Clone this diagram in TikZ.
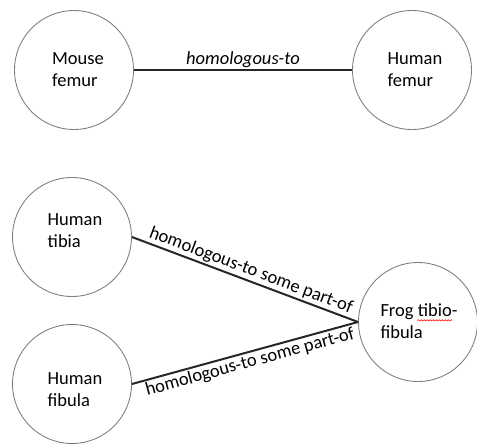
\documentclass[tikz,border=0pt]{standalone}
\usepackage{fontspec}
\setmainfont{Carlito}
\usetikzlibrary{decorations.pathmorphing}
\tikzset{
  bubble/.style={circle,draw=black!50,line width=0.9pt,minimum size=119pt,inner sep=0pt},
  txt/.style={align=left,inner sep=0pt,font=\fontsize{18.5}{22}\selectfont},
  link/.style={draw=black!85,line width=2pt},
  lab/.style={font=\fontsize{18.5}{22}\selectfont,inner sep=1.5pt},
}
\begin{document}
\begin{tikzpicture}[x=1pt,y=-1pt]
\useasboundingbox (0,0) rectangle (477,445);
\node[bubble] (mouse) at (74,70) {};
\node[bubble] (hfemur) at (412,70) {};
\node[bubble] (tibia) at (72,237) {};
\node[bubble] (fibula) at (72,384) {};
\node[bubble] (frog) at (418,322) {};
\node[txt] (tmouse) at (78,70) {Mouse\\femur};
\node[txt] (thfemur) at (415,70) {Human\\femur};
\node[txt] (ttibia) at (75,231) {Human\\tibia};
\node[txt] (tfibula) at (75,390) {Human\\fibula};
\node[txt] (tfrog) at (419,321) {Frog tibio-\\fibula};
\draw[red,line width=0.6pt,decorate,decoration={snake,amplitude=0.6pt,segment length=3pt}] ([shift={(37,17)}]tfrog.north west) coordinate (u1) -- ([shift={(72,17)}]tfrog.north west) coordinate (u2);
\draw[link] (mouse.east) -- node[lab,above,font=\fontsize{18.5}{22}\selectfont\itshape] {homologous-to} (hfemur.west);
\draw[link] (tibia.east) -- node[lab,above,sloped,pos=0.51] {homologous-to some part-of} (frog.west);
\draw[link] (fibula.east) -- node[lab,below,sloped,pos=0.51] {homologous-to some part-of} (frog.west);
\end{tikzpicture}
\end{document}
